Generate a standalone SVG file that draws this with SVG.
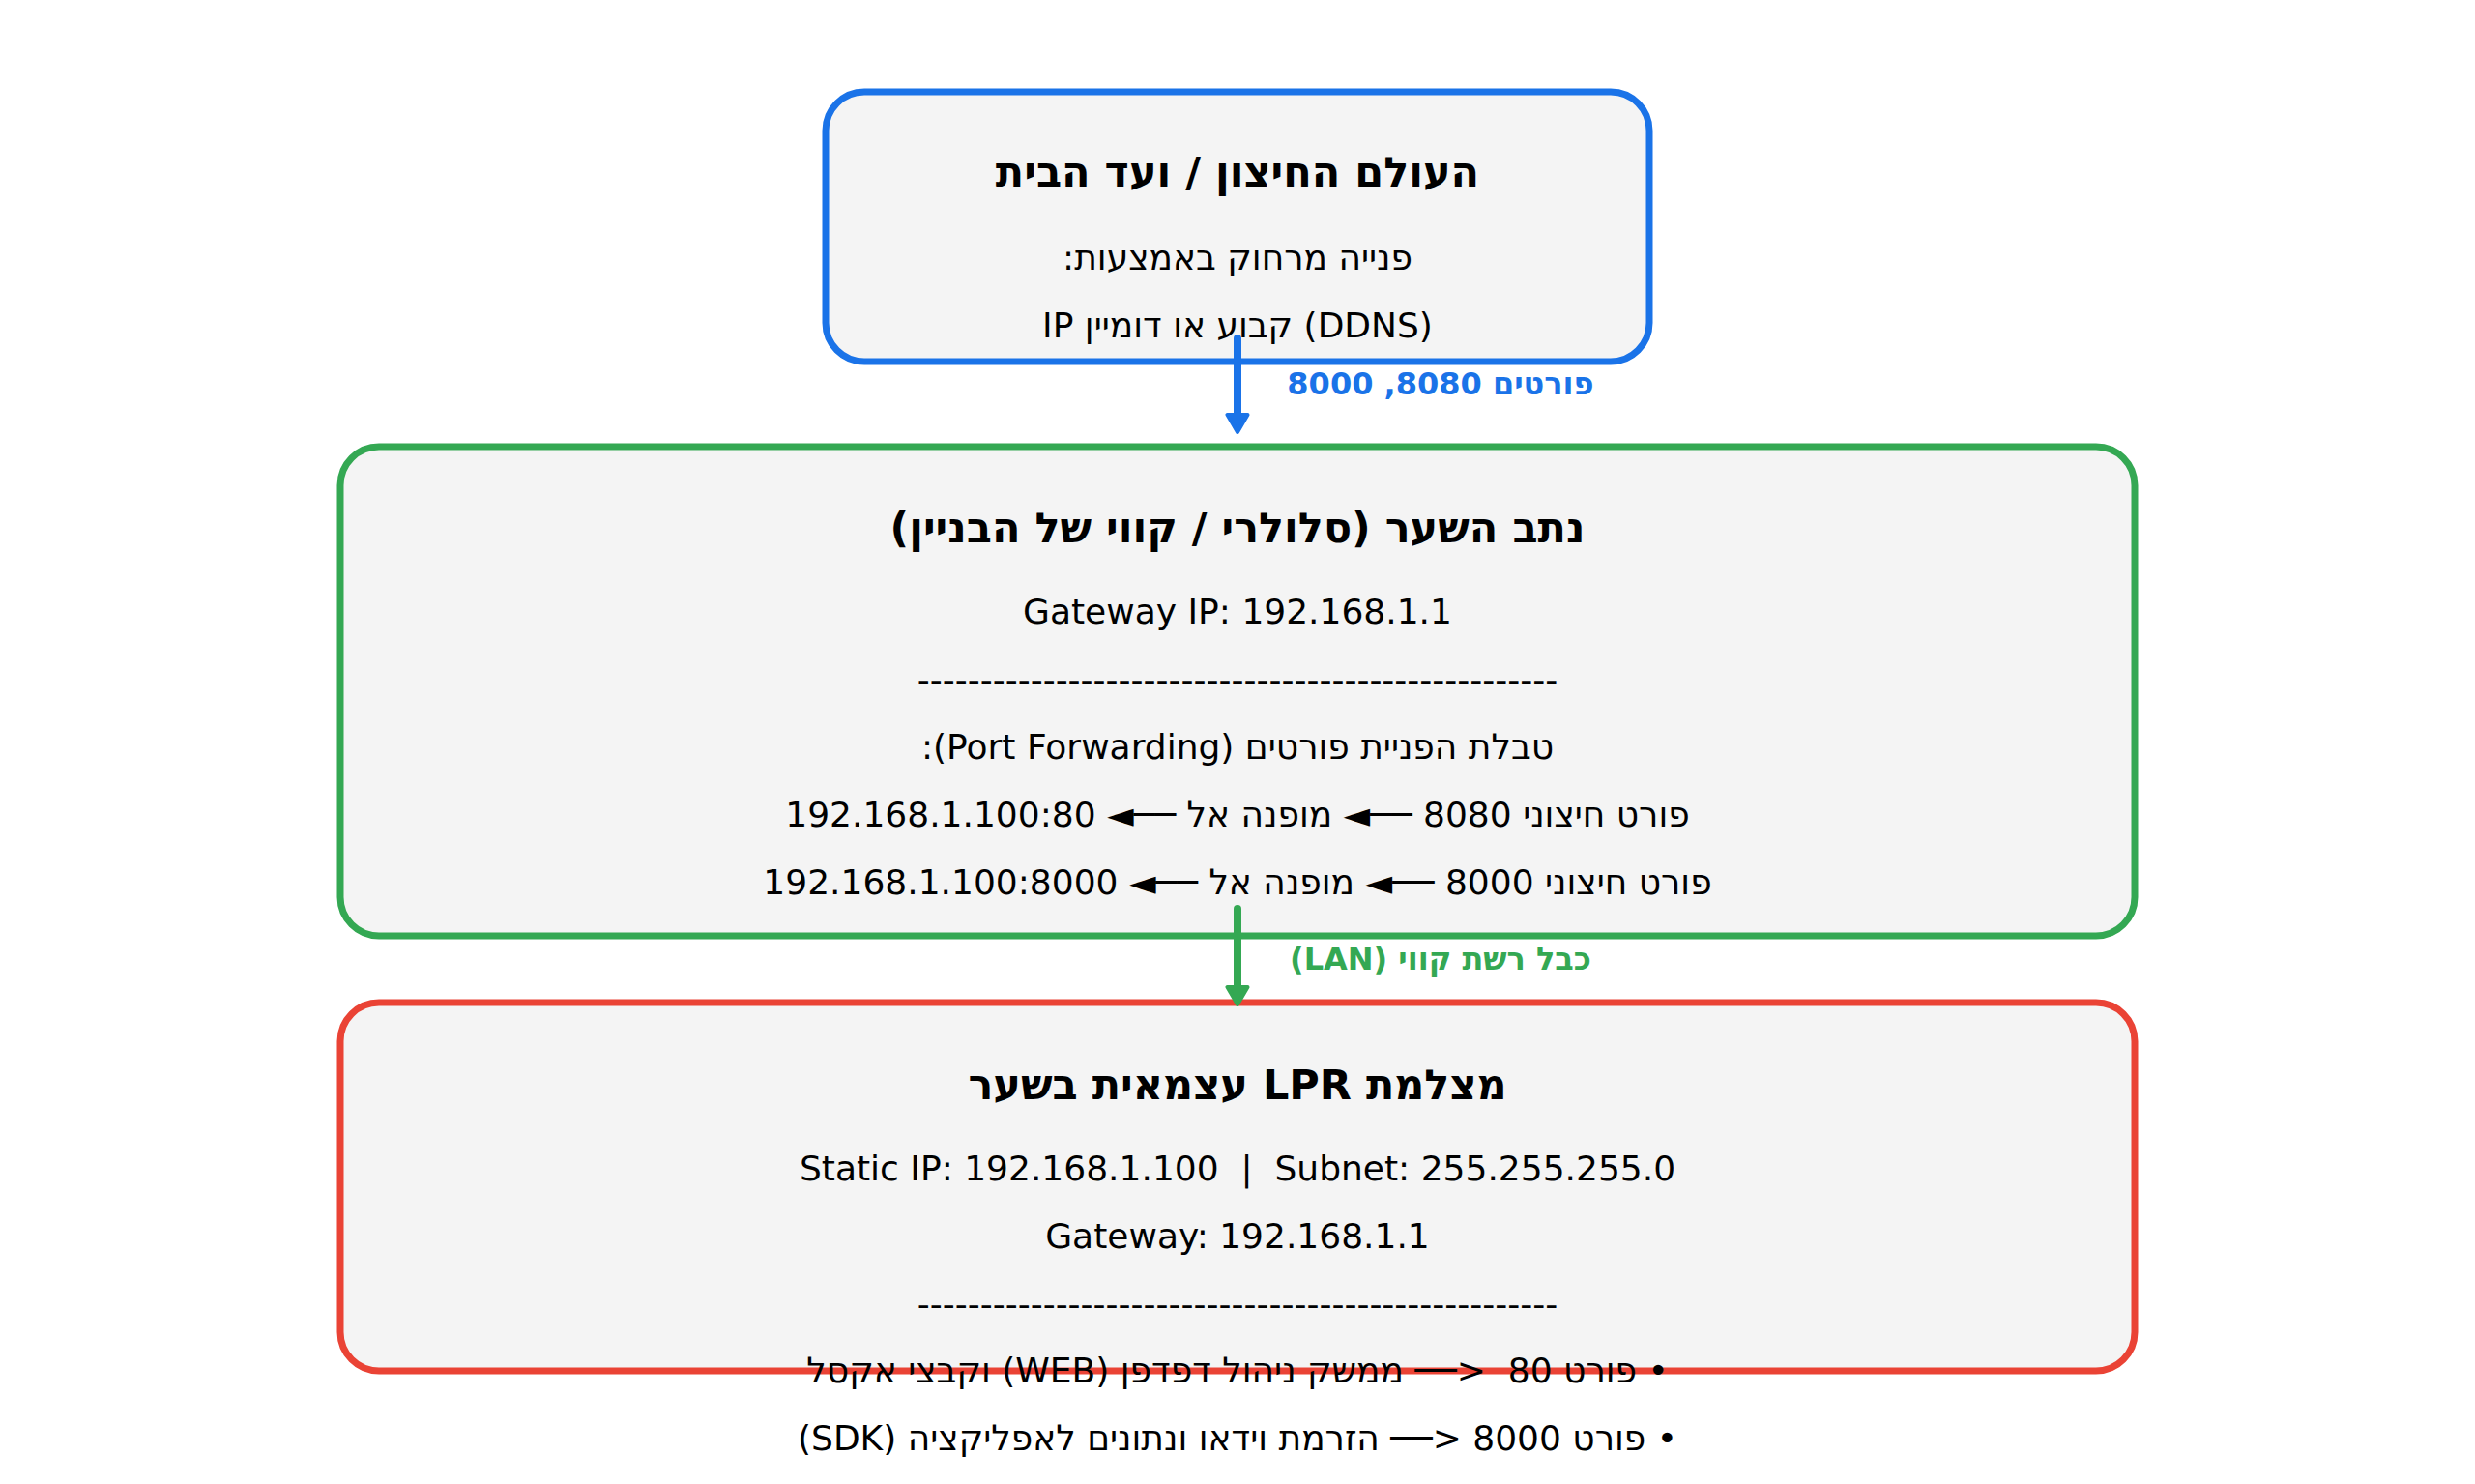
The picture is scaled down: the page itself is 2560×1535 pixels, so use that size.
<svg xmlns="http://www.w3.org/2000/svg" width="2560" height="1535" viewBox="0 0 2560 1535">
  <defs>
    <style>
      .box { fill: #f4f4f4; stroke-width: 7; }
      .t { font-family: "DejaVu Sans", "Noto Sans", sans-serif; font-size: 36px; fill: #000; text-anchor: middle; white-space: pre; }
      .h { font-family: "DejaVu Sans", "Noto Sans", sans-serif; font-size: 43px; font-weight: bold; fill: #000; text-anchor: middle; }
      .lbl { font-family: "DejaVu Sans", "Noto Sans", sans-serif; font-size: 32px; font-weight: bold; text-anchor: middle; }
      .conn { fill: none; stroke-width: 8; stroke-linecap: round; }
    </style>
    <marker id="ahBlue" markerUnits="userSpaceOnUse" markerWidth="24" markerHeight="27" refX="0" refY="12.5" orient="auto" overflow="visible">
      <path d="M2,2 L20,12.5 L2,23 z" fill="#1a73e8" stroke="#1a73e8" stroke-width="4" stroke-linejoin="round"/>
    </marker>
    <marker id="ahGreen" markerUnits="userSpaceOnUse" markerWidth="24" markerHeight="27" refX="0" refY="12.5" orient="auto" overflow="visible">
      <path d="M2,2 L20,12.5 L2,23 z" fill="#34a853" stroke="#34a853" stroke-width="4" stroke-linejoin="round"/>
    </marker>
  </defs>
  <rect x="0" y="0" width="2560" height="1535" fill="#ffffff"/>

  <g id="node-outside">
    <rect class="box" x="854" y="95" width="852" height="279" rx="40" ry="40" stroke="#1a73e8"/>
    <text class="h" x="1280" y="193" direction="rtl" unicode-bidi="embed">העולם החיצון / ועד הבית</text>
    <text class="t" x="1280" y="279" direction="rtl" unicode-bidi="embed">פנייה מרחוק באמצעות:</text>
    <text class="t" x="1280" y="349" direction="ltr">IP קבוע או דומיין (DDNS)</text>
  </g>

  <g id="node-router">
    <rect class="box" x="352" y="462" width="1856" height="506" rx="40" ry="40" stroke="#34a853"/>
    <text class="h" x="1280" y="561" direction="rtl" unicode-bidi="embed">נתב השער (סלולרי / קווי של הבניין)</text>
    <text class="t" x="1280" y="645" direction="ltr">Gateway IP: 192.168.1.1</text>
    <text class="t" x="1280" y="715" direction="ltr">---------------------------------------------------</text>
    <text class="t" x="1280" y="785" direction="rtl" unicode-bidi="embed">טבלת הפניית פורטים (Port Forwarding):</text>
    <text class="t" x="1280" y="855" direction="rtl" unicode-bidi="embed">פורט חיצוני 8080 ──◄ מופנה אל ──◄ 192.168.1.100:80</text>
    <text class="t" x="1280" y="925" direction="rtl" unicode-bidi="embed">פורט חיצוני 8000 ──◄ מופנה אל ──◄ 192.168.1.100:8000</text>
  </g>

  <g id="node-camera">
    <rect class="box" x="352" y="1037" width="1856" height="381" rx="40" ry="40" stroke="#ea4335"/>
    <text class="h" x="1280" y="1137" direction="rtl" unicode-bidi="embed">מצלמת LPR עצמאית בשער</text>
    <text class="t" x="1280" y="1221" direction="ltr">Static IP: 192.168.1.100  |  Subnet: 255.255.255.0</text>
    <text class="t" x="1280" y="1291" direction="ltr">Gateway: 192.168.1.1</text>
    <text class="t" x="1280" y="1361" direction="ltr">---------------------------------------------------</text>
    <text class="t" x="1280" y="1430" direction="rtl" unicode-bidi="embed">• פורט 80  &lt;── ממשק ניהול דפדפן (WEB) וקבצי אקסל</text>
    <text class="t" x="1280" y="1500" direction="rtl" unicode-bidi="embed">• פורט 8000 &lt;── הזרמת וידאו ונתונים לאפליקציה (SDK)</text>
  </g>

  <g id="connectors">
    <line class="conn" x1="1280" y1="350" x2="1280" y2="427" stroke="#1a73e8" marker-end="url(#ahBlue)"/>
    <text class="lbl" x="1490" y="408" fill="#1a73e8" direction="rtl" unicode-bidi="embed">פורטים 8080, 8000</text>
    <line class="conn" x1="1280" y1="940" x2="1280" y2="1019" stroke="#34a853" marker-end="url(#ahGreen)"/>
    <text class="lbl" x="1490" y="1003" fill="#34a853" direction="rtl" unicode-bidi="embed">כבל רשת קווי (LAN)</text>
  </g>
</svg>
